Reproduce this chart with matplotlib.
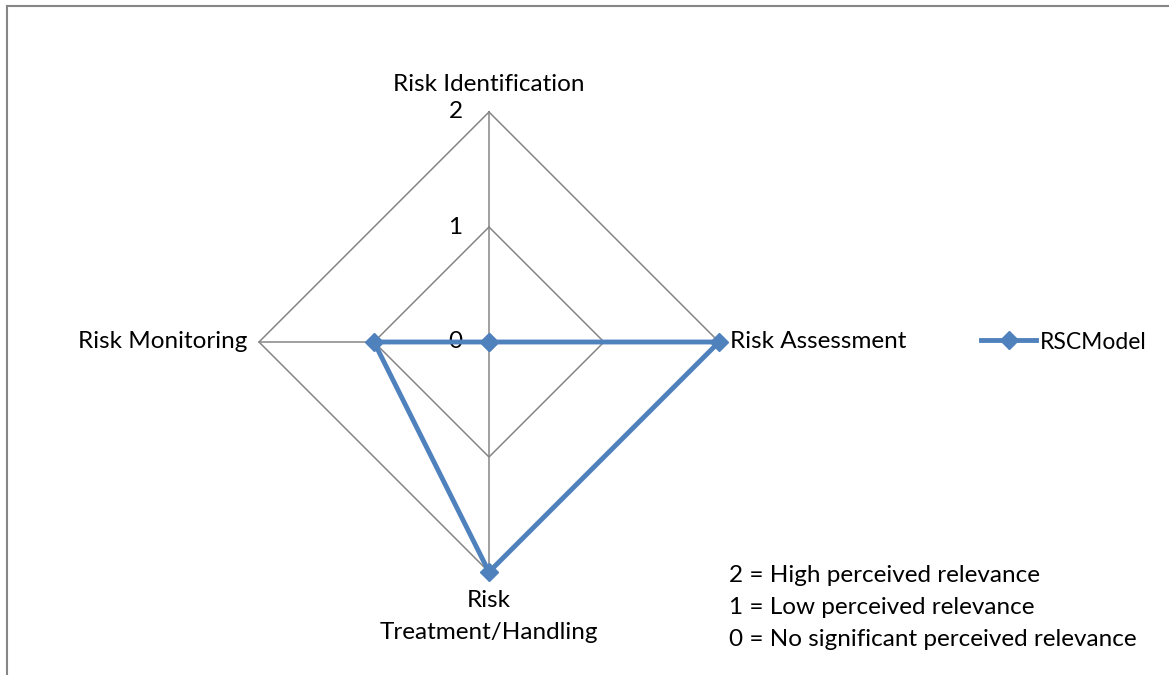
import numpy as np
import matplotlib
matplotlib.use("Agg")
import matplotlib.pyplot as plt
from matplotlib.lines import Line2D

plt.rcParams['font.family'] = ['Lato', 'DejaVu Sans']

categories = ["Risk Identification", "Risk Assessment", "Risk\nTreatment/Handling", "Risk Monitoring"]
values = [0, 2, 2, 1]
series_name = "RSCModel"
ticks = [0, 1, 2]
notes = ["2 = High perceived relevance",
         "1 = Low perceived relevance",
         "0 = No significant perceived relevance"]

W, H = 1169, 675
FS = 17.5
fig = plt.figure(figsize=(W / 100, H / 100), dpi=100)
ax = fig.add_axes([0, 0, 1, 1])
cx, cy, unit = 489, 342, 115.0
ax.set_xlim(-cx / unit, (W - cx) / unit)
ax.set_ylim(-(H - cy) / unit, cy / unit)
ax.axis('off')

n = len(categories)
angles = np.arange(n) * 2 * np.pi / n
sx, sy = np.sin(angles), np.cos(angles)
rmax = max(ticks)
grid_c = '#868686'

# rings
for t in ticks[1:]:
    ax.plot(np.r_[sx, sx[0]] * t, np.r_[sy, sy[0]] * t, color=grid_c, lw=1.1, zorder=1)
# spokes
for i in range(n):
    ax.plot([0, sx[i] * rmax], [0, sy[i] * rmax], color=grid_c, lw=1.1, zorder=1)

# tick labels along first axis
for t in ticks:
    ax.text(-0.23, t, str(t), ha='right', va='center', fontsize=FS, color='black', zorder=2)

# series
v = np.array(values, dtype=float)
ax.plot(np.r_[sx * v, sx[0] * v[0]], np.r_[sy * v, sy[0] * v[0]],
        color='#4F81BD', lw=3.5, marker='D', markersize=9.5, zorder=3)

# category labels
off = 0.1
ax.text(0, rmax + 0.235, categories[0], ha='center', va='center', fontsize=FS)
ax.text(rmax + off, 0, categories[1], ha='left', va='center', fontsize=FS)
ax.text(0, -rmax - 0.16, categories[2], ha='center', va='top', fontsize=FS, linespacing=1.6)
ax.text(-rmax - off, 0, categories[3], ha='right', va='center', fontsize=FS)

# legend
h = Line2D([0], [0], color='#4F81BD', lw=3.5, marker='D', markersize=9.5)
ax.legend([h], [series_name], loc='center left', frameon=False, fontsize=16.5,
          bbox_to_anchor=((981) / W, 1 - 342 / H), bbox_transform=fig.transFigure,
          handlelength=2.4, handletextpad=0.15, borderpad=0, borderaxespad=0)

# notes
for k, s in enumerate(notes):
    fig.text(729 / W, 1 - (575 + 32 * k) / H, s, ha='left', va='center', fontsize=FS)

# chart frame (top and left edges visible)
fig.add_artist(Line2D([6.5 / W, 6.5 / W], [0, 1 - 6 / H], color=grid_c, lw=1.5, transform=fig.transFigure))
fig.add_artist(Line2D([6.5 / W, 1], [1 - 6 / H, 1 - 6 / H], color=grid_c, lw=1.5, transform=fig.transFigure))

fig.savefig('out.png', dpi=100)
